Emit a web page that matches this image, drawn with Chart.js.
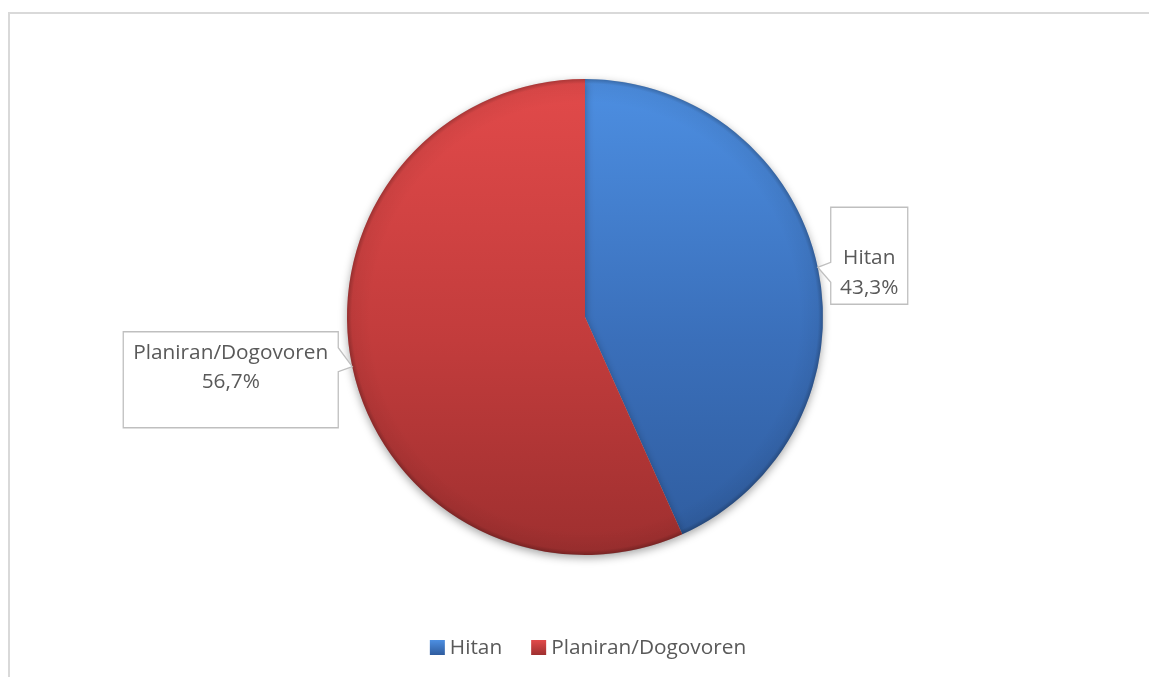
<!DOCTYPE html>
<html>
<head>
<meta charset="utf-8">
<script src="https://cdn.jsdelivr.net/npm/chart.js@4/dist/chart.umd.min.js"></script>
<style>
  html, body { margin: 0; padding: 0; background: #ffffff; overflow: hidden; }
  #frame { position: absolute; left: 8px; top: 12px; width: 1200px; height: 700px;
           border-left: 2px solid #d9d9d9; border-top: 2px solid #d9d9d9; }
  #wrap { position: absolute; left: 0; top: 0; width: 1149px; height: 677px; }
</style>
</head>
<body>
<div id="frame"></div>
<div id="wrap"><canvas id="c" width="1149" height="677"></canvas></div>
<script>
// ---- data ----
const categories = ['Hitan', 'Planiran/Dogovoren'];
const shares = [43.3, 56.7];

// ---- styles ----
const FONT = '"Open Sans", "Liberation Sans", sans-serif';
const FONT_SIZE = 20.8;
const TEXT_COLOR = '#595959';
const gradStops = [
  ['#4d8fe2', '#3a6fba', '#2f5c9e'],
  ['#e24a4a', '#c23c3c', '#9e2f2f']
];
// callout box layout relative to the slice's outer mid-point (style, not data)
const calloutLayout = [
  { side: 'right', dx: 13, top: -60, w: 77, h: 97, base1: 57, base2: 87 },
  { side: 'left', dx: -14, top: -35, w: 215, h: 96, base1: 27, base2: 56 }
];

function fmtPct(v) { return v.toFixed(1).replace('.', ',') + '%'; }

function sliceFill(ctx) {
  const idx = ctx.dataIndex;
  const chart = ctx.chart;
  const ca = chart.chartArea;
  if (!ca || idx === undefined) return gradStops[idx || 0][1];
  const cy = (ca.top + ca.bottom) / 2;
  const r = Math.min(ca.width, ca.height) / 2;
  const g = chart.ctx.createLinearGradient(0, cy - r, 0, cy + r);
  g.addColorStop(0, gradStops[idx][0]);
  g.addColorStop(0.55, gradStops[idx][1]);
  g.addColorStop(1, gradStops[idx][2]);
  return g;
}

const shadowPlugin = {
  id: 'pieShadow',
  beforeDatasetsDraw(chart) {
    const c = chart.ctx;
    c.save();
    c.shadowColor = 'rgba(0,0,0,0.35)';
    c.shadowBlur = 9;
    c.shadowOffsetY = 3;
  },
  afterDatasetsDraw(chart) {
    chart.ctx.restore();
    // rim shading
    const c = chart.ctx;
    const arc = chart.getDatasetMeta(0).data[0];
    const cx = arc.x, cy = arc.y, r = arc.outerRadius;
    c.save();
    const rg = c.createRadialGradient(cx, cy, r * 0.9, cx, cy, r);
    rg.addColorStop(0, 'rgba(0,0,0,0)');
    rg.addColorStop(0.8, 'rgba(0,0,0,0.05)');
    rg.addColorStop(1, 'rgba(0,0,0,0.25)');
    c.beginPath();
    c.arc(cx, cy, r, 0, Math.PI * 2);
    c.fillStyle = rg;
    c.fill();
    c.restore();
  }
};

const calloutPlugin = {
  id: 'callouts',
  afterDraw(chart) {
    const c = chart.ctx;
    const meta = chart.getDatasetMeta(0);
    meta.data.forEach((arc, i) => {
      const mid = (arc.startAngle + arc.endAngle) / 2;
      const tx = arc.x + Math.cos(mid) * arc.outerRadius;
      const ty = arc.y + Math.sin(mid) * arc.outerRadius;
      const L = calloutLayout[i];
      const top = ty + L.top;
      let left, edge;
      if (L.side === 'right') { left = tx + L.dx; edge = left; }
      else { left = tx + L.dx - L.w; edge = left + L.w; }
      const p1 = ty - 5 - (L.side === 'left' ? 14 : 0);
      const p2 = ty + 15 + (L.side === 'left' ? -10 : 0);
      c.save();
      c.fillStyle = '#ffffff';
      c.strokeStyle = '#bfbfbf';
      c.lineWidth = 1.3;
      c.beginPath();
      if (L.side === 'right') {
        c.moveTo(left, top);
        c.lineTo(left + L.w, top);
        c.lineTo(left + L.w, top + L.h);
        c.lineTo(left, top + L.h);
        c.lineTo(left, p2);
        c.lineTo(tx, ty);
        c.lineTo(left, p1);
        c.closePath();
      } else {
        c.moveTo(left, top);
        c.lineTo(edge, top);
        c.lineTo(edge, p1);
        c.lineTo(tx, ty);
        c.lineTo(edge, p2);
        c.lineTo(edge, top + L.h);
        c.lineTo(left, top + L.h);
        c.closePath();
      }
      c.fill();
      c.stroke();
      c.fillStyle = TEXT_COLOR;
      c.font = FONT_SIZE + 'px ' + FONT;
      c.textAlign = 'center';
      c.textBaseline = 'alphabetic';
      const mx = left + L.w / 2;
      c.fillText(chart.data.labels[i], mx, top + L.base1);
      c.fillText(fmtPct(chart.data.datasets[0].data[i]), mx, top + L.base2);
      c.restore();
    });
  }
};

const legendPlugin = {
  id: 'customLegend',
  afterDraw(chart) {
    const c = chart.ctx;
    const arc = chart.getDatasetMeta(0).data[0];
    const box = 15, gapText = 5, gapItem = 29;
    c.save();
    c.font = FONT_SIZE + 'px ' + FONT;
    const labels = chart.data.labels;
    const widths = labels.map(l => box + gapText + c.measureText(l).width);
    const total = widths.reduce((a, b) => a + b, 0) + gapItem * (labels.length - 1);
    let x = arc.x + 3 - total / 2;
    const by = 640, base = 654;
    labels.forEach((l, i) => {
      const g = c.createLinearGradient(x, by, x, by + box);
      g.addColorStop(0, gradStops[i][0]);
      g.addColorStop(1, gradStops[i][2]);
      c.fillStyle = g;
      c.fillRect(x, by, box, box);
      c.fillStyle = TEXT_COLOR;
      c.textAlign = 'left';
      c.textBaseline = 'alphabetic';
      c.fillText(l, x + box + gapText, base);
      x += widths[i] + gapItem;
    });
    c.restore();
  }
};

new Chart(document.getElementById('c'), {
  type: 'pie',
  data: {
    labels: categories,
    datasets: [{
      data: shares,
      backgroundColor: sliceFill,
      borderWidth: 0,
      hoverOffset: 0
    }]
  },
  options: {
    responsive: false,
    animation: false,
    events: [],
    layout: { padding: { top: 79, bottom: 122, left: 21, right: 0 } },
    plugins: {
      legend: { display: false },
      tooltip: { enabled: false }
    }
  },
  plugins: [shadowPlugin, calloutPlugin, legendPlugin]
});
</script>
</body>
</html>
